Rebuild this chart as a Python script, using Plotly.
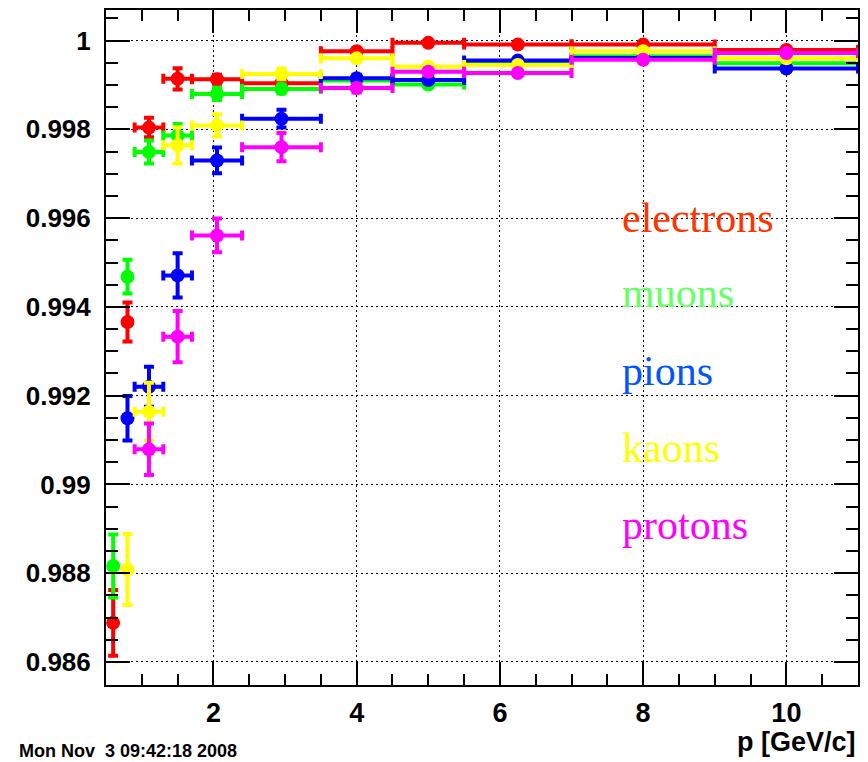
import plotly.graph_objects as go

# ---- data ----
p_center = [0.6, 0.8, 1.1, 1.5, 2.05, 2.95, 4.0, 5.0, 6.25, 8.0, 10.0]
p_halfwidth = [0.0, 0.0, 0.2, 0.2, 0.35, 0.55, 0.5, 0.5, 0.75, 1.0, 1.0]

electrons_eff = [0.98688, 0.99366, 0.99804, 0.99914, 0.99913, 0.99904, 0.99976, 0.99995, 0.99991, 0.99991, 0.99979]
electrons_err = [0.00074, 0.00044, 0.00022, 0.00024, 0.0001, 0.00006, 0.00005, 0.00003, 0.00003, 0.00003, 0.00005]

muons_eff = [0.98816, 0.99468, 0.99749, 0.99786, 0.9988, 0.99891, 0.9991, 0.99901, 0.99948, 0.99965, 0.99949]
muons_err = [0.00071, 0.00038, 0.00026, 0.00026, 0.00014, 0.0001, 0.00006, 0.00006, 0.00005, 0.00004, 0.00005]

pions_eff = [0.99149, 0.9922, 0.99471, 0.9973, 0.99824, 0.99915, 0.99911, 0.99955, 0.99961, 0.99937]
pions_err = [0.0005, 0.00045, 0.0005, 0.00029, 0.0002, 0.00008, 0.00006, 0.00005, 0.00004, 0.00005]

kaons_eff = [0.98808, 0.99164, 0.99764, 0.99809, 0.99925, 0.9996, 0.99941, 0.99945, 0.99976, 0.9996]
kaons_err = [0.0008, 0.00065, 0.00041, 0.00025, 0.00012, 0.00006, 0.00006, 0.00005, 0.00004, 0.00005]

protons_eff = [0.99079, 0.99333, 0.99561, 0.9976, 0.99893, 0.9993, 0.99927, 0.99957, 0.99972]
protons_err = [0.00058, 0.00058, 0.00038, 0.00032, 0.0001, 0.00006, 0.00005, 0.00005, 0.00005]

species = ["electrons", "muons", "pions", "kaons", "protons"]
first_bin = [0, 0, 1, 1, 2]
eff_values = [electrons_eff, muons_eff, pions_eff, kaons_eff, protons_eff]
err_values = [electrons_err, muons_err, pions_err, kaons_err, protons_err]
marker_colors = ["#ff0000", "#00ff00", "#0000ff", "#ffff00", "#ff00ff"]
label_colors = ["#ff3300", "#66ff66", "#0055ff", "#ffff00", "#ff00ff"]

y_tickvals = [0.986, 0.988, 0.99, 0.992, 0.994, 0.996, 0.998, 1.0]
y_ticktext = ["0.986", "0.988", "0.99", "0.992", "0.994", "0.996", "0.998", "1"]
x_tickvals = [2, 4, 6, 8, 10]
x_ticktext = ["2", "4", "6", "8", "10"]

fig = go.Figure()
for name, fb, eff, err, col in zip(species, first_bin, eff_values, err_values, marker_colors):
    fig.add_trace(go.Scatter(
        x=p_center[fb:], y=eff, mode="markers", name=name,
        marker=dict(symbol="circle", size=14, color=col, line=dict(width=0)),
        error_y=dict(type="data", array=err, visible=True, color=col, thickness=4, width=5),
        error_x=dict(type="data", array=p_halfwidth[fb:], visible=True, color=col, thickness=4, width=5),
        showlegend=False,
    ))

# species labels (positions relative to the plot frame)
label_y_px = [218, 293, 371, 448, 525]
for name, col, ypx in zip(species, label_colors, label_y_px):
    fig.add_annotation(
        text=name, xref="paper", yref="paper",
        x=(620 - 106) / 752, y=(685 - ypx) / 675,
        xanchor="left", yanchor="middle", showarrow=False,
        font=dict(family="Liberation Serif", size=42, color=col),
    )

fig.add_annotation(
    text="p [GeV/c]", xref="paper", yref="paper", x=1.0, y=(685 - 742) / 675,
    xanchor="right", yanchor="middle", showarrow=False,
    font=dict(family="Liberation Sans", size=27, color="black", weight="bold"),
)
fig.add_annotation(
    text="Mon Nov \u00a03 09:42:18 2008", xref="paper", yref="paper",
    x=(17 - 106) / 752, y=(685 - 751) / 675,
    xanchor="left", yanchor="middle", showarrow=False,
    font=dict(family="Liberation Sans", size=18, color="black", weight="bold"),
)

axis_common = dict(
    showline=True, linewidth=2, linecolor="black", mirror="allticks",
    ticks="inside", tickwidth=2, tickcolor="black",
    showgrid=True, gridcolor="black", gridwidth=1, griddash="2px,3px",
    zeroline=False, automargin=False,
)

fig.update_xaxes(
    range=[0.5, 11], tickvals=x_tickvals, ticktext=x_ticktext, ticklen=23,
    tickfont=dict(family="Liberation Sans", size=27, color="black", weight="bold"),
    ticklabelstandoff=3,
    minor=dict(ticks="inside", ticklen=11, tickwidth=1.5, tickcolor="black", dtick=0.5, tick0=0, showgrid=False),
    **axis_common,
)
fig.update_yaxes(
    range=[0.98548, 1.00069], tickvals=y_tickvals, ticktext=y_ticktext, ticklen=24,
    tickfont=dict(family="Liberation Sans", size=26, color="black", weight="bold"),
    ticklabelstandoff=8,
    minor=dict(ticks="inside", ticklen=12, tickwidth=1.5, tickcolor="black", dtick=0.0005, tick0=0.986, showgrid=False),
    **axis_common,
)

# the page body adds an 8px offset, so the figure is 8px smaller and margins shifted
fig.update_layout(
    width=860, height=754,
    margin=dict(l=98, r=10, t=2, b=77),
    paper_bgcolor="white", plot_bgcolor="white",
)

fig.write_html("out.html")
